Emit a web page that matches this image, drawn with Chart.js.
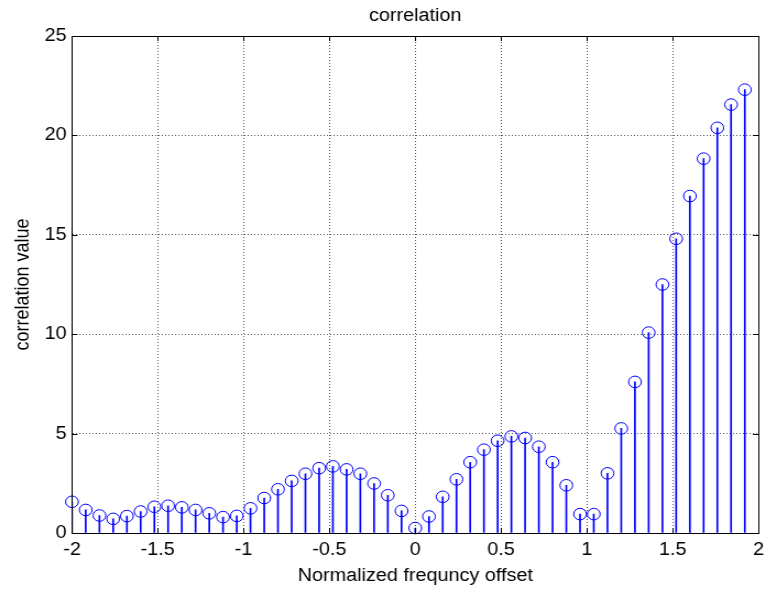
<!DOCTYPE html>
<html>
<head>
<meta charset="utf-8">
<script src="https://cdn.jsdelivr.net/npm/chart.js@4/dist/chart.umd.min.js"></script>
<style>
  html, body { margin: 0; padding: 0; background: #fff; overflow: hidden; }
  /* the figure is drawn narrower and widened horizontally, like the exported plot */
  #wrap { width: 696px; height: 589px; transform: scaleX(1.1006); transform-origin: 0 0; }
</style>
</head>
<body>
<div id="wrap"><canvas id="c" width="696" height="589"></canvas></div>
<script>
// Frequency offsets (step 0.08 from -2 to 1.92)
const offsets = [
  -2.00, -1.92, -1.84, -1.76, -1.68, -1.60, -1.52, -1.44, -1.36, -1.28,
  -1.20, -1.12, -1.04, -0.96, -0.88, -0.80, -0.72, -0.64, -0.56, -0.48,
  -0.40, -0.32, -0.24, -0.16, -0.08,  0.00,  0.08,  0.16,  0.24,  0.32,
   0.40,  0.48,  0.56,  0.64,  0.72,  0.80,  0.88,  0.96,  1.04,  1.12,
   1.20,  1.28,  1.36,  1.44,  1.52,  1.60,  1.68,  1.76,  1.84,  1.92
];
// Correlation magnitude at each offset
const corrValues = [
  1.57, 1.16, 0.88, 0.71, 0.85, 1.08, 1.32, 1.37, 1.29, 1.16,
  0.99, 0.80, 0.86, 1.24, 1.76, 2.20, 2.62, 2.98, 3.26, 3.35,
  3.20, 2.98, 2.49, 1.90, 1.11, 0.25, 0.83, 1.82, 2.70, 3.56,
  4.19, 4.64, 4.86, 4.78, 4.34, 3.56, 2.40, 0.95, 0.95, 3.00,
  5.26, 7.60, 10.08, 12.50, 14.80, 16.95, 18.83, 20.38, 21.55, 22.30
];
const xTicks = [-2, -1.5, -1, -0.5, 0, 0.5, 1, 1.5, 2];
const yTicks = [0, 5, 10, 15, 20, 25];

const points = offsets.map((x, i) => ({ x: x, y: corrValues[i] }));
const BLUE = 'rgb(0,0,255)';
const FONT = "'Liberation Sans', Arial, sans-serif";

// Box around the axes plus short inward tick marks on all four sides
const framePlugin = {
  id: 'frame',
  afterDraw(chart) {
    const { ctx, chartArea: a, scales } = chart;
    ctx.save();
    ctx.strokeStyle = '#000';
    ctx.lineWidth = 1;
    ctx.setLineDash([]);
    ctx.strokeRect(Math.round(a.left) + 0.5, Math.round(a.top) + 0.5,
                   Math.round(a.right - a.left), Math.round(a.bottom - a.top));
    const len = 5;
    ctx.beginPath();
    xTicks.forEach(v => {
      const px = Math.round(scales.x.getPixelForValue(v)) + 0.5;
      ctx.moveTo(px, a.bottom); ctx.lineTo(px, a.bottom - len);
      ctx.moveTo(px, a.top); ctx.lineTo(px, a.top + len);
    });
    yTicks.forEach(v => {
      const py = Math.round(scales.y.getPixelForValue(v)) + 0.5;
      ctx.moveTo(a.left, py); ctx.lineTo(a.left + len, py);
      ctx.moveTo(a.right, py); ctx.lineTo(a.right - len, py);
    });
    ctx.stroke();
    ctx.restore();
  }
};

const bgPlugin = {
  id: 'bg',
  beforeDraw(chart) {
    const { ctx, width, height } = chart;
    ctx.save();
    ctx.fillStyle = '#fff';
    ctx.fillRect(0, 0, width, height);
    ctx.restore();
  }
};

new Chart(document.getElementById('c'), {
  type: 'bar',
  data: {
    datasets: [
      {
        type: 'line',
        label: 'markers',
        data: points,
        showLine: false,
        pointStyle: 'circle',
        pointRadius: 5.8,
        pointHoverRadius: 5.8,
        pointBorderWidth: 1,
        pointBorderColor: BLUE,
        pointBackgroundColor: 'rgba(0,0,0,0)',
        clip: false,
        order: 0
      },
      {
        type: 'bar',
        label: 'stems',
        data: points,
        backgroundColor: BLUE,
        borderWidth: 0,
        barThickness: 1,
        order: 1
      }
    ]
  },
  options: {
    responsive: false,
    animation: false,
    devicePixelRatio: 1,
    layout: { padding: { left: 0, right: 3.6, top: 0, bottom: 0 } },
    plugins: {
      legend: { display: false },
      tooltip: { enabled: false },
      title: {
        display: true,
        fullSize: false,
        text: 'correlation',
        color: '#000',
        font: { family: FONT, size: 18, weight: 'normal', lineHeight: 1.2 },
        padding: { top: 5, bottom: 9.4 }
      }
    },
    scales: {
      x: {
        type: 'linear',
        min: -2,
        max: 2,
        offset: false,
        afterBuildTicks(scale) { scale.ticks = xTicks.map(v => ({ value: v })); },
        afterFit(scale) { scale.height = 56; scale.paddingRight = 0; scale.paddingLeft = 0; },
        ticks: {
          color: '#000',
          font: { family: FONT, size: 18, lineHeight: 1.2 },
          padding: 6,
          maxRotation: 0,
          callback: v => String(v)
        },
        grid: { color: '#555', lineWidth: 1, drawTicks: false, offset: false },
        border: { display: true, color: '#000', dash: [1, 2] },
        title: {
          display: true,
          text: 'Normalized frequncy offset',
          color: '#000',
          font: { family: FONT, size: 18, lineHeight: 1.2 },
          padding: { top: 0, bottom: 2 }
        }
      },
      y: {
        type: 'linear',
        min: 0,
        max: 25,
        afterBuildTicks(scale) { scale.ticks = yTicks.map(v => ({ value: v })); },
        afterFit(scale) { scale.width = 65.4; scale.paddingTop = 0; scale.paddingBottom = 0; },
        ticks: {
          color: '#000',
          font: { family: FONT, size: 18, lineHeight: 1.2 },
          padding: 5,
          callback: v => String(v)
        },
        grid: { color: '#555', lineWidth: 1, drawTicks: false },
        border: { display: true, color: '#000', dash: [1, 2] },
        title: {
          display: true,
          text: 'correlation value',
          color: '#000',
          font: { family: FONT, size: 18, lineHeight: 1.2 },
          padding: { top: 10.5, bottom: 0 }
        }
      }
    }
  },
  plugins: [bgPlugin, framePlugin]
});
</script>
</body>
</html>
